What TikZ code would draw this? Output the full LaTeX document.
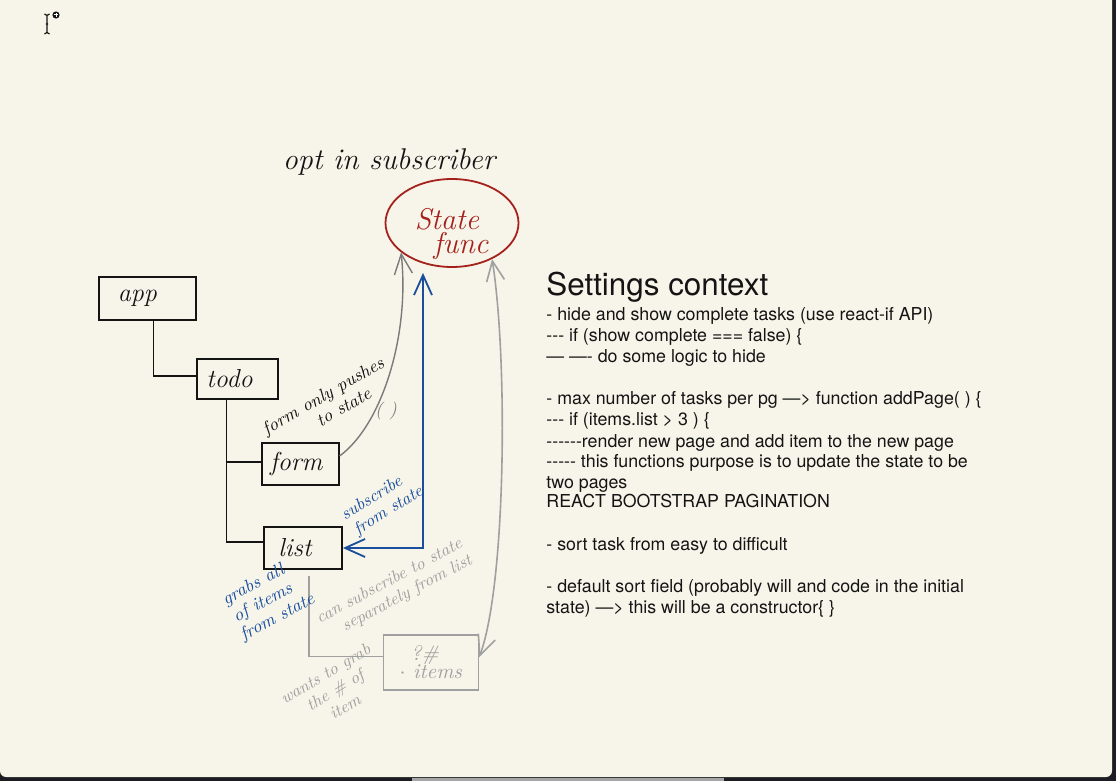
\documentclass[tikz,border=0pt]{standalone}
\usepackage{fontspec}
\usetikzlibrary{arrows.meta,shapes.geometric}
\newfontfamily\helv{TeX Gyre Heros}
\newcommand\hyp{\mbox{-}}
\newcommand\hand{\itshape}
\definecolor{paper}{RGB}{247,245,234}
\definecolor{ink}{RGB}{20,20,20}
\definecolor{redink}{RGB}{165,34,28}
\definecolor{blueink}{RGB}{27,79,158}
\definecolor{grayink}{RGB}{122,122,122}
\definecolor{lgray}{RGB}{160,160,160}
\definecolor{frame}{RGB}{28,28,34}
\tikzset{
  treebox/.style={draw=ink, line width=0.9pt, inner sep=0pt, font=\hand\fontsize{13}{14}\selectfont, text=ink},
  grbox/.style={draw=lgray, line width=0.8pt, inner sep=0pt, align=center, font=\hand\fontsize{10.5}{11}\selectfont, text=lgray},
  tree/.style={draw=ink, line width=0.8pt},
  barb/.style={{Straight Barb[length=10pt,width=9pt]}-{Straight Barb[length=10pt,width=9pt]}},
  tipend/.style={-{Straight Barb[length=10pt,width=9pt]}},
  lab/.style={font=\hand\fontsize{9}{10}\selectfont, align=center, inner sep=0pt},
  body/.style={anchor=base west, inner sep=0pt, font=\helv\fontsize{8.9}{10.5}\selectfont, text=ink},
}
\begin{document}
\begin{tikzpicture}[x=0.5pt,y=-0.5pt]
% background and window frame
\fill[frame] (0,0) rectangle (1116,781);
\fill[paper] (0,0) -- (1112,0) -- (1112,771) arc[start angle=0,end angle=90,radius=6] -- (6,777) arc[start angle=90,end angle=180,radius=6] -- cycle;
\fill[gray!70] (412,778) rectangle (724,781);
\useasboundingbox (0,0) rectangle (1116,781);
% cursor icon
\draw[ink, line width=0.6pt] (47,15) -- (47,33) (44.5,14) -- (47,15.5) -- (49.5,14) (44.5,34) -- (47,32.5) -- (49.5,34) (45.8,24) -- (48.2,24);
\fill[ink] (56,15) circle[radius=3.6];
\draw[white, line width=0.5pt] (54,15) -- (58,15) (56,13) -- (56,17);

% title
\node[font=\hand\fontsize{15}{16}\selectfont, text=ink, anchor=base] (title) at (389,170) {opt in subscriber};

% state function ellipse
\node[ellipse, draw=redink, line width=0.9pt, minimum width=66.5pt, minimum height=44pt, inner sep=0pt] (stateF) at (452,223) {};
\node[font=\hand\fontsize{15}{15}\selectfont, text=redink, align=center] (stateT) at (447,234) {State\\[-3pt]\hspace*{14pt}func};

% tree boxes
\node[treebox, minimum width=48.5pt, minimum height=21.5pt] (app) at (147.5,298.5) {app\hspace*{10pt}};
\node[treebox, minimum width=40.5pt, minimum height=20pt] (todo) at (237.5,379) {todo\hspace*{8pt}};
\node[treebox, minimum width=38.5pt, minimum height=21pt] (form) at (300.2,464) {form\hspace*{4pt}};
\node[treebox, minimum width=39pt, minimum height=21pt] (list) at (303,548) {list\hspace*{8pt}};
\node[grbox, minimum width=47.5pt, minimum height=27.5pt] (items) at (430.8,662.4) {?\#\hspace*{6pt}\\[-2pt]$\cdot$ items};

% tree connectors
\draw[tree] ([xshift=3pt]app.south) |- ([yshift=1.5pt]todo.west);
\draw[tree] ([xshift=-5.5pt]todo.south) |- ([yshift=1pt]form.west);
\draw[tree] ([xshift=-5.5pt]todo.south) |- ([yshift=3pt]list.west);
\draw[lgray, line width=0.8pt] ([xshift=3pt,yshift=-3pt]list.south) |- ([yshift=3pt]items.west);

% arrows to/from state
\draw[grayink, line width=0.7pt, tipend] ([yshift=4pt]form.east) .. controls (382,425) and (410,335) .. (stateF.210);
\draw[blueink, line width=0.9pt, barb] (list.east) -| ([xshift=-14.5pt,yshift=-2.5pt]stateF.south);
\draw[lgray, line width=0.8pt, barb] (stateF.318) .. controls (508,360) and (506,585) .. ([yshift=2.5pt]items.east);

% handwritten labels
\node[lab, text=ink, rotate=30] (formlab) at (328,404) {form only pushes\\\hspace*{12pt}to state};
\node[font=\hand\fontsize{9}{10}\selectfont, text=grayink] (paren) at (386,411) {( )};
\node[lab, text=blueink, rotate=32, font=\hand\fontsize{8.6}{9.6}\selectfont] (sublab) at (377,507) {subscribe\\\hspace*{8pt}from state};
\node[lab, text=blueink, rotate=28] (grablab) at (263,603) {grabs all\\of items\\\hspace*{6pt}from state};
\node[lab, text=lgray, rotate=28, font=\hand\fontsize{8.5}{9.5}\selectfont] (canlab) at (394,590) {can subscribe to state\\\hspace*{10pt}separately from list};
\node[lab, text=lgray, rotate=31, font=\hand\fontsize{8.5}{9.5}\selectfont] (wantlab) at (335,690) {wants to grab\\the \# of\\item};

% settings text
\node[anchor=base west, inner sep=0pt, font=\helv\fontsize{15.7}{17}\selectfont, text=ink] (head) at (546,296) {Settings context};
\node[body] (l1) at (546,321) {- hide and show complete tasks (use react-if API)};
\node[body] (l2) at (546,342) {\hyp\hyp\hyp{} if (show complete === false) \{};
\node[body] (l3) at (546,363) {— —\hyp{} do some logic to hide};
\node[body] (l4) at (546,405) {- max number of tasks per pg —> function addPage( ) \{};
\node[body] (l5) at (546,426) {\hyp\hyp\hyp{} if (items.list > 3 ) \{};
\node[body] (l6) at (546,447) {\hyp\hyp\hyp\hyp\hyp\hyp render new page and add item to the new page};
\node[body] (l7) at (546,467) {\hyp\hyp\hyp\hyp\hyp{} this functions purpose is to update the state to be};
\node[body] (l8) at (546,488) {two pages};
\node[body] (l9) at (546,508) {REACT BOOTSTRAP PAGINATION};
\node[body] (l10) at (546,550) {- sort task from easy to difficult};
\node[body] (l11) at (546,592) {- default sort field (probably will and code in the initial};
\node[body] (l12) at (546,613) {state) —> this will be a constructor\{ \}};
\end{tikzpicture}
\end{document}
